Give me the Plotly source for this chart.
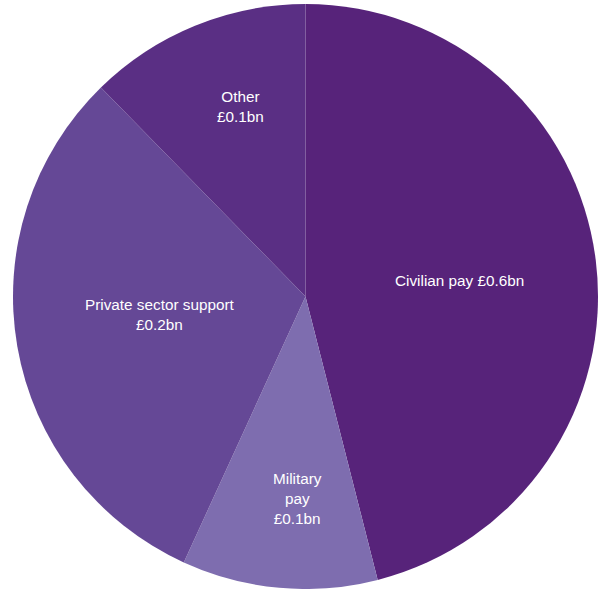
import plotly.graph_objects as go

categories = ["Civilian pay", "Military pay", "Private sector support", "Other"]
shares = [46.03, 10.8, 30.84, 12.33]
label_texts = ["Civilian pay £0.6bn", "Military<br>pay<br>£0.1bn", "Private sector support<br>£0.2bn", "Other<br>£0.1bn"]
colors = ["#57237A", "#7E6DAF", "#654896", "#5A2F84"]
label_pos = [(459, 280), (297, 498), (160, 314), (240, 106)]

W, H = 601, 589

fig = go.Figure(go.Pie(
    labels=categories,
    values=shares,
    sort=False,
    direction="clockwise",
    rotation=0,
    marker=dict(colors=colors, line=dict(width=0)),
    textinfo="none",
    hoverinfo="label+percent",
    domain=dict(x=[12 / W, 599 / W], y=[0, 1 - 4 / H]),
    showlegend=False,
))

for txt, (px, py) in zip(label_texts, label_pos):
    fig.add_annotation(
        x=px / W, y=1 - py / H, xref="paper", yref="paper",
        text=txt, showarrow=False,
        font=dict(family="Liberation Sans, Arial, sans-serif", size=15.3, color="white"),
        align="center", xanchor="center", yanchor="middle",
    )

fig.update_layout(
    width=W, height=H,
    margin=dict(l=0, r=0, t=0, b=0),
    paper_bgcolor="white",
    plot_bgcolor="white",
)

fig.write_html("out.html")
